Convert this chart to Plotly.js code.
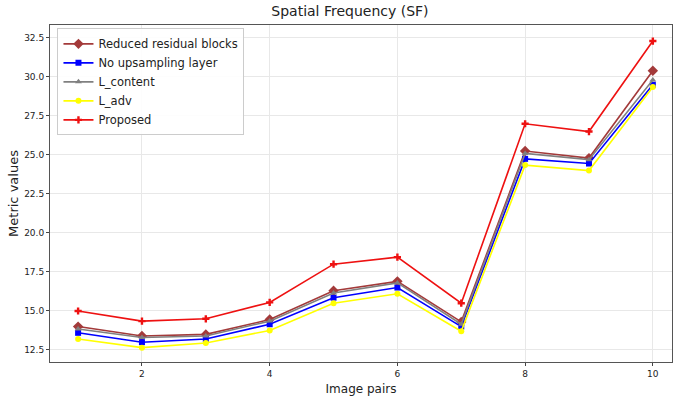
<!DOCTYPE html>
<html><head><meta charset="utf-8">
<script src="https://cdn.plot.ly/plotly-3.0.1.min.js"></script>
<style>html,body{margin:0;padding:0;background:#fff}#chart{width:673px;height:398px}</style>
</head><body><div id="chart"></div>
<script>
const imagePairs = [1,2,3,4,5,6,7,8,9,10];
const reducedResidual = [14.0,13.4,13.5,14.45,16.3,16.9,14.3,25.25,24.8,30.4];
const noUpsampling = [13.6,13.0,13.2,14.15,15.85,16.5,14.0,24.75,24.45,29.5];
const lContent = [13.85,13.3,13.4,14.35,16.15,16.8,14.15,25.1,24.7,29.8];
const lAdv = [13.2,12.65,12.95,13.75,15.5,16.1,13.7,24.35,24.0,29.35];
const proposed = [15.0,14.35,14.5,15.55,18.0,18.45,15.5,27.0,26.5,32.3];

const mk = (name, y, color, symbol, size) => ({
  x: imagePairs, y: y, name: name, type: 'scatter', mode: 'lines+markers',
  line: {color: color, width: 1.6},
  marker: {color: color, symbol: symbol, size: size}
});
const data = [
  mk('Reduced residual blocks', reducedResidual, '#a33a3a', 'diamond', 8),
  mk('No upsampling layer', noUpsampling, '#0000ff', 'square', 6),
  mk('L_content', lContent, '#808080', 'triangle-up', 6),
  mk('L_adv', lAdv, '#ffff00', 'circle', 6),
  mk('Proposed', proposed, '#ee1111', 'cross', 6)
];
const font = {family: 'DejaVu Sans, sans-serif', color: '#222'};
const layout = {
  width: 673, height: 398,
  margin: {l: 50, r: 1, t: 25, b: 36},
  paper_bgcolor: '#fff', plot_bgcolor: '#fff',
  font: font,
  title: {text: 'Spatial Frequency (SF)', x: 0.52, xanchor: 'center', y: 0.985, yanchor: 'top', font: {size: 14, family: font.family, color: '#222'}},
  xaxis: {
    range: [0.56, 10.3], tickvals: [2,4,6,8,10], ticks: 'outside', ticklen: 3, tickcolor: '#444',
    showgrid: true, gridcolor: '#e8e8e8', zeroline: false,
    showline: true, linecolor: '#555', linewidth: 1, mirror: true,
    tickfont: {size: 9}, title: {text: 'Image pairs', font: {size: 12}, standoff: 6}
  },
  yaxis: {
    range: [11.73, 33.33], tickvals: [12.5,15,17.5,20,22.5,25,27.5,30,32.5], tickformat: '.1f',
    ticks: 'outside', ticklen: 3, tickcolor: '#444',
    showgrid: true, gridcolor: '#e8e8e8', zeroline: false,
    showline: true, linecolor: '#555', linewidth: 1, mirror: true,
    tickfont: {size: 9}, title: {text: 'Metric values', font: {size: 13}, standoff: 2}
  },
  legend: {x: 0.012, y: 0.99, xanchor: 'left', yanchor: 'top', bgcolor: 'rgba(255,255,255,0.9)',
    bordercolor: '#ccc', borderwidth: 1, font: {size: 11.5}, tracegroupgap: 0, itemwidth: 30},
  showlegend: true
};
Plotly.newPlot('chart', data, layout, {displayModeBar: false, staticPlot: true});
</script></body></html>
